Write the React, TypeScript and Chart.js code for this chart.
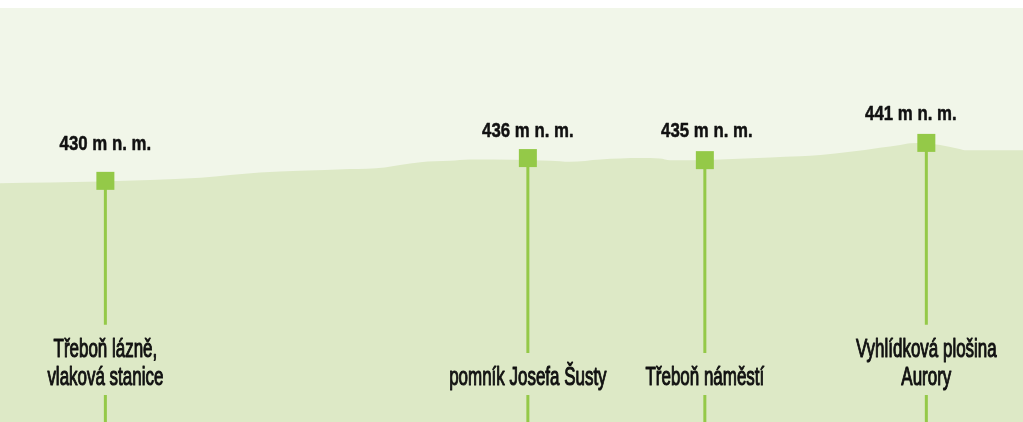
import React, { useEffect, useRef } from "react";
import { Chart, registerables } from "chart.js";

Chart.register(...registerables);

// Elevation profile: distance along the route (% of route) and height (m n. m.)
const profileDistance = [0, 9.8, 19.6, 25.4, 29.3, 34.2, 37.6, 39.1, 41.1, 44.0, 45.9, 50.3, 53.8, 55.7, 58.7, 62.6, 64.5, 65.5, 67.4, 70.4, 75.3, 78.2, 80.2, 83.1, 86.0, 88.0, 89.0, 90.4, 91.9, 92.9, 93.8, 94.3, 95.8, 100];
const profileElevation = [429.2, 429.7, 430.8, 432.3, 432.8, 433.3, 433.8, 434.5, 435.3, 435.7, 436.1, 436.0, 435.7, 435.4, 436.1, 436.5, 436.4, 435.9, 435.9, 436.1, 436.7, 437.0, 437.4, 438.3, 439.5, 440.3, 440.8, 440.9, 440.3, 439.7, 439.1, 438.8, 438.8, 438.8];

// Stops
const stopDistance = [10.3, 51.6, 68.9, 90.55];
const stopElevation = [429.9, 436.5, 435.9, 440.9];
const stopHeightLabels = ["430 m n. m.", "436 m n. m.", "435 m n. m.", "441 m n. m."];
const stopNames = [
  ["Třeboň lázně,", "vlaková stanice"],
  ["pomník Josefa Šusty"],
  ["Třeboň náměstí"],
  ["Vyhlídková plošina", "Aurory"],
];

const BG = "#f1f6e9";
const AREA = "#dde9c6";
const GREEN = "#94c948";
const TEXT = "#111111";

// label layout tweaks (pixels)
const heightLabelRise = [31, 21, 23, 23];
const heightLabelShift = [0, 0, 2, -15.5];

function condensedText(ctx: CanvasRenderingContext2D, text: string, x: number, y: number, sx: number, stroke: number) {
  ctx.save();
  ctx.translate(x, y);
  ctx.scale(sx, 1);
  ctx.fillText(text, 0, 0);
  if (stroke > 0) {
    ctx.lineWidth = stroke;
    ctx.strokeText(text, 0, 0);
  }
  ctx.restore();
}

const stopsPlugin = {
  id: "stops",
  afterDatasetDraw(chart: any, args: any) {
    if (args.index !== 1) return;
    const ctx: CanvasRenderingContext2D = chart.ctx;
    const xs = chart.scales.x;
    const ys = chart.scales.y;
    const bottom = chart.chartArea.bottom;
    const lastBaseline = bottom - 37;
    const lineH = 28.3;
    ctx.save();
    ctx.strokeStyle = GREEN;
    ctx.lineWidth = 3;
    stopDistance.forEach((d, i) => {
      const x = xs.getPixelForValue(d);
      const y = ys.getPixelForValue(stopElevation[i]);
      const n = stopNames[i].length;
      const boxTop = lastBaseline - (n - 1) * lineH - 32;
      const boxBottom = lastBaseline + 10;
      ctx.beginPath();
      ctx.moveTo(x, y);
      ctx.lineTo(x, boxTop);
      ctx.moveTo(x, boxBottom);
      ctx.lineTo(x, bottom);
      ctx.stroke();
    });
    ctx.restore();
  },
  afterDatasetsDraw(chart: any) {
    const ctx: CanvasRenderingContext2D = chart.ctx;
    const xs = chart.scales.x;
    const ys = chart.scales.y;
    const bottom = chart.chartArea.bottom;
    const lastBaseline = bottom - 37;
    const lineH = 28.3;
    ctx.save();
    ctx.fillStyle = TEXT;
    ctx.strokeStyle = TEXT;
    ctx.lineJoin = "round";
    ctx.textAlign = "center";
    ctx.textBaseline = "alphabetic";
    stopDistance.forEach((d, i) => {
      const x = xs.getPixelForValue(d);
      const y = ys.getPixelForValue(stopElevation[i]);
      ctx.font = 'bold 21px "Liberation Sans"';
      condensedText(ctx, stopHeightLabels[i], x + heightLabelShift[i], y - heightLabelRise[i], 0.8, 0.5);
      ctx.font = '26.5px "Liberation Sans"';
      const lines = stopNames[i];
      lines.forEach((t, k) => {
        const by = lastBaseline - (lines.length - 1 - k) * lineH;
        condensedText(ctx, t, x, by, 0.64, 1.1);
      });
    });
    ctx.restore();
  },
};

export default function App() {
  const ref = useRef<HTMLCanvasElement | null>(null);
  useEffect(() => {
    if (!ref.current) return;
    const chart = new Chart(ref.current, {
      type: "line",
      data: {
        datasets: [
          {
            label: "Zastávky",
            data: stopDistance.map((x, i) => ({ x, y: stopElevation[i] })),
            showLine: false,
            pointStyle: "rect",
            pointRadius: 12.73,
            pointHoverRadius: 12.73,
            backgroundColor: GREEN,
            borderColor: GREEN,
            borderWidth: 0,
            order: 0,
          } as any,
          {
            label: "Profil",
            data: profileDistance.map((x, i) => ({ x, y: profileElevation[i] })),
            fill: "start",
            backgroundColor: AREA,
            borderWidth: 0,
            pointRadius: 0,
            cubicInterpolationMode: "monotone",
            order: 1,
          } as any,
        ],
      },
      options: {
        animation: false,
        responsive: false,
        layout: { padding: 0, autoPadding: false },
        plugins: { legend: { display: false }, tooltip: { enabled: false } },
        scales: {
          x: { type: "linear", min: 0, max: 100, display: false },
          y: { type: "linear", min: 360, max: 480, display: false },
        },
        events: [],
      },
      plugins: [stopsPlugin],
    });
    return () => chart.destroy();
  }, []);
  return (
    <div style={{ position: "absolute", left: 0, top: 8, width: 1023, height: 414, background: BG }}>
      <canvas ref={ref} width={1023} height={414} style={{ display: "block" }} />
    </div>
  );
}
